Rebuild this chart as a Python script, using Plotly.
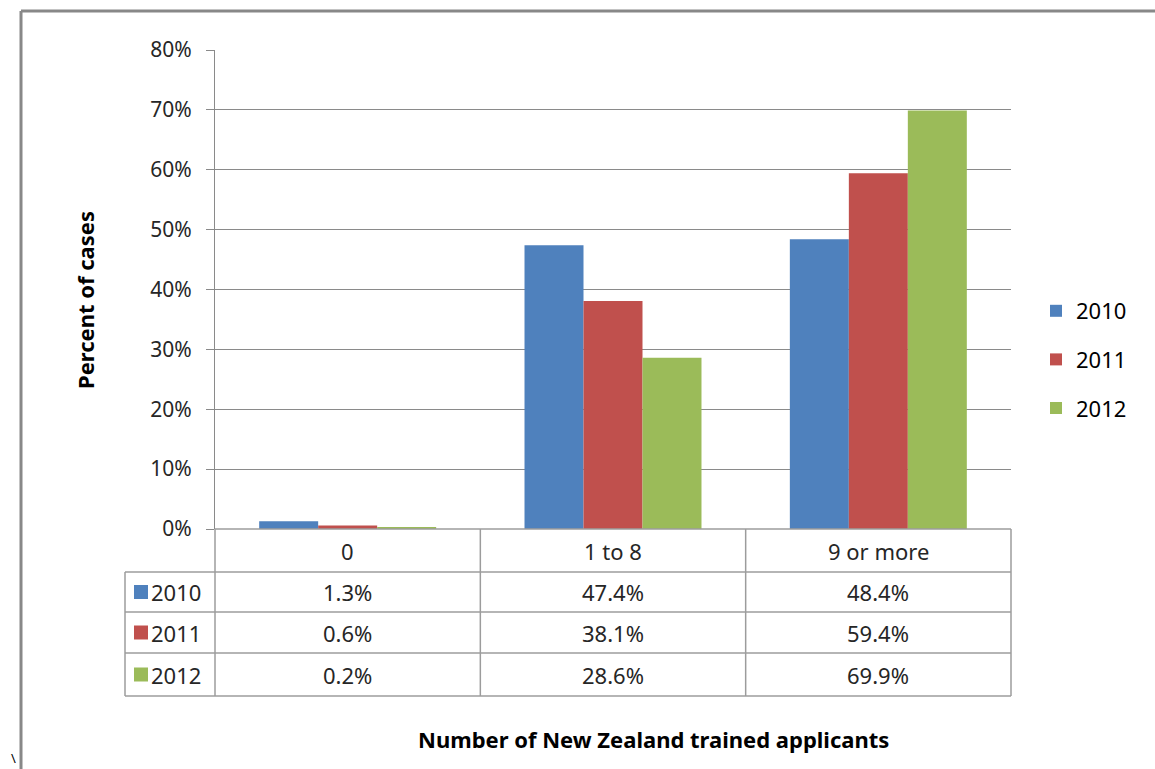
import plotly.graph_objects as go

categories = ["0", "1 to 8", "9 or more"]
years = ["2010", "2011", "2012"]
values_2010 = [1.3, 47.4, 48.4]
values_2011 = [0.6, 38.1, 59.4]
values_2012 = [0.2, 28.6, 69.9]
series = [values_2010, values_2011, values_2012]
colors = ["#4F81BD", "#C0504D", "#9BBB59"]
y_ticks = [0, 10, 20, 30, 40, 50, 60, 70, 80]

FONT = "Noto Sans"
FS = 21
FT = 22
W, H = 1155, 769
L, R, T, B = 215, 144, 50, 240
PW, PH = W - L - R, H - T - B
GRID = "#8a8a8a"
TLINE = "#9c9c9c"
TXT = "#262626"


def px_x(p):
    return (p - L) / PW


def px_y(p):
    return (H - B - p) / PH


fig = go.Figure()
for yr, vals, col in zip(years, series, colors):
    fig.add_trace(go.Bar(
        x=categories, y=vals, name=yr, marker=dict(color=col, line=dict(width=0)),
        legendgroup=yr,
    ))

shapes = []
annotations = []

row_edges = [529, 572, 612, 653, 696]
left_px = 125
ncat = len(categories)
for i, ry in enumerate(row_edges):
    x0 = 0 if i == 0 else px_x(left_px)
    shapes.append(dict(type="line", xref="paper", yref="paper", x0=x0, x1=1,
                       y0=px_y(ry), y1=px_y(ry), line=dict(color=TLINE, width=1.5)))
for k in range(ncat + 1):
    shapes.append(dict(type="line", xref="paper", yref="paper", x0=k / ncat, x1=k / ncat,
                       y0=px_y(row_edges[0]), y1=px_y(row_edges[-1]),
                       line=dict(color=TLINE, width=1.5)))
shapes.append(dict(type="line", xref="paper", yref="paper", x0=px_x(left_px), x1=px_x(left_px),
                   y0=px_y(row_edges[1]), y1=px_y(row_edges[-1]), line=dict(color=TLINE, width=1.5)))

for k, c in enumerate(categories):
    annotations.append(dict(text=c, xref="paper", yref="paper", x=(k + 0.5) / ncat,
                            y=px_y((row_edges[0] + row_edges[1]) / 2), showarrow=False,
                            font=dict(family=FONT, size=FT, color=TXT),
                            xanchor="center", yanchor="middle"))
for r, (yr, vals, col) in enumerate(zip(years, series, colors)):
    yc = px_y((row_edges[r + 1] + row_edges[r + 2]) / 2)
    shapes.append(dict(type="rect", xref="paper", yref="paper",
                       x0=px_x(134), x1=px_x(148), y0=yc - 7 / PH, y1=yc + 7 / PH,
                       fillcolor=col, line=dict(width=0)))
    annotations.append(dict(text=yr, xref="paper", yref="paper", x=px_x(149), y=yc,
                            showarrow=False, xanchor="left", yanchor="middle",
                            font=dict(family=FONT, size=FT, color=TXT)))
    for k, v in enumerate(vals):
        annotations.append(dict(text=f"{v:.1f}%", xref="paper", yref="paper",
                                x=(k + 0.5) / ncat, y=yc, showarrow=False,
                                xanchor="center", yanchor="middle",
                                font=dict(family=FONT, size=FT, color=TXT)))

annotations.append(dict(text="<b>Percent of cases</b>", xref="paper", yref="paper",
                        x=px_x(85), y=px_y(300), textangle=-90, showarrow=False,
                        xanchor="center", yanchor="middle",
                        font=dict(family=FONT, size=22, color="#000000")))
annotations.append(dict(text="<b>Number of New Zealand trained applicants</b>", xref="paper",
                        yref="paper", x=px_x(653), y=px_y(739), showarrow=False,
                        xanchor="center", yanchor="middle",
                        font=dict(family=FONT, size=22, color="#000000")))
annotations.append(dict(text="\\", xref="paper", yref="paper", x=px_x(13), y=px_y(758),
                        showarrow=False, xanchor="center", yanchor="middle",
                        font=dict(family=FONT, size=13, color="#000000")))

shapes.append(dict(type="line", xref="paper", yref="paper", x0=px_x(21), x1=px_x(21),
                   y0=px_y(11), y1=px_y(775), line=dict(color="#888888", width=3)))
shapes.append(dict(type="line", xref="paper", yref="paper", x0=px_x(21), x1=px_x(1160),
                   y0=px_y(11), y1=px_y(11), line=dict(color="#888888", width=3)))

fig.update_layout(
    width=W, height=H,
    margin=dict(l=L, r=R, t=T, b=B),
    plot_bgcolor="white", paper_bgcolor="white",
    barmode="group", bargap=0.333, bargroupgap=0,
    font=dict(family=FONT, size=FS, color=TXT),
    showlegend=True,
    legend=dict(x=px_x(1036), y=px_y(290), xanchor="left", yanchor="top",
                font=dict(family=FONT, size=FT, color="#000000"),
                tracegroupgap=17, itemwidth=30, bgcolor="rgba(0,0,0,0)"),
    shapes=shapes, annotations=annotations,
)
fig.update_xaxes(showticklabels=False, showgrid=False, showline=False, ticks="",
                 range=[-0.5, 2.5], fixedrange=True)
fig.update_yaxes(range=[0, 80], tickvals=y_ticks, ticktext=[f"{v}%" for v in y_ticks],
                 showgrid=True, gridcolor=GRID, gridwidth=1,
                 showline=True, linecolor=GRID, linewidth=1,
                 ticks="outside", ticklen=8, tickcolor=GRID, ticklabelstandoff=10,
                 tickfont=dict(family=FONT, size=FS, color=TXT),
                 zeroline=False)

fig.write_html("out.html", config={"displayModeBar": False},
               post_script="document.body.style.margin='0';")
